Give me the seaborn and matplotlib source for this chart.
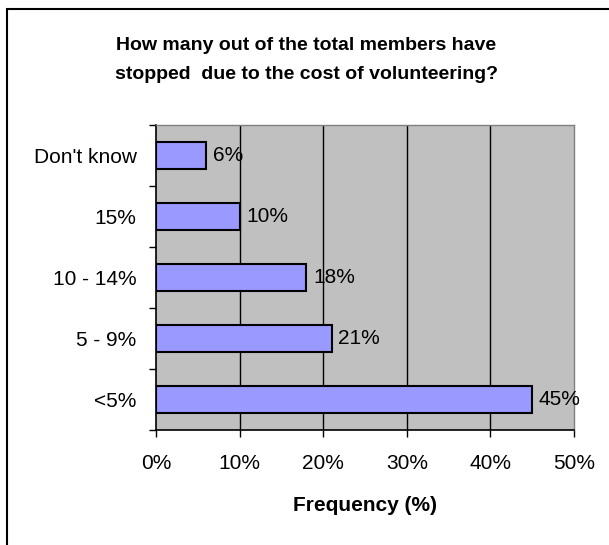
import numpy as np
import pandas as pd
import seaborn as sns
import matplotlib.pyplot as plt
from matplotlib.patches import Rectangle
from matplotlib.ticker import FixedLocator

# Datos
categorias = ["Don't know", "15%", "10 - 14%", "5 - 9%", "<5%"]
frecuencia = [6, 10, 18, 21, 45]
ticks_x = [0, 10, 20, 30, 40, 50]

df = pd.DataFrame({"Categoria": categorias, "Frecuencia": frecuencia})

sns.set_style("white")
plt.rcParams["font.family"] = ["Liberation Sans", "DejaVu Sans"]
plt.rcParams["text.color"] = "black"
plt.rcParams["xtick.color"] = "black"
plt.rcParams["ytick.color"] = "black"
plt.rcParams["axes.labelcolor"] = "black"

fig = plt.figure(figsize=(6.09, 5.45), dpi=100)
ax = fig.add_axes([156 / 609, 1 - 430 / 545, (574 - 156) / 609, (430 - 125) / 545])
ax.set_facecolor("#C0C0C0")

# Marco exterior del gráfico
fig.patches.append(Rectangle((7 / 609, -0.5), 1.5, 1.5 - 9 / 545,
                             transform=fig.transFigure, fill=False,
                             edgecolor="black", linewidth=1.5, zorder=0))

# Líneas de cuadrícula verticales
for x in ticks_x[1:-1]:
    ax.axvline(x, color="black", linewidth=1, zorder=1)

sns.barplot(data=df, x="Frecuencia", y="Categoria", order=categorias,
            orient="h", color="#9999FF", edgecolor="black", linewidth=1.5,
            width=0.43, saturation=1, ax=ax, zorder=2)

# Etiquetas de valor
for i, v in enumerate(frecuencia):
    ax.text(v + 0.8, i, f"{v}%", va="center", ha="left", fontsize=15, zorder=3)

ax.set_xlim(0, 50)
ax.set_ylim(4.5, -0.5)
ax.set_xticks(ticks_x)
ax.set_xticklabels([f"{t}%" for t in ticks_x], fontsize=15)
ax.tick_params(axis="x", direction="out", length=5, width=1, color="black", pad=12, bottom=True)

ax.set_yticks(range(len(categorias)))
ax.set_yticklabels(categorias, fontsize=15)
ax.yaxis.set_minor_locator(FixedLocator(np.arange(-0.5, 5, 1)))
ax.tick_params(axis="y", which="major", length=0, pad=14)
ax.tick_params(axis="y", which="minor", direction="out", length=5, width=1, color="black", left=True)

ax.set_ylabel("")
ax.set_xlabel("Frequency (%)", fontsize=15, fontweight="bold", labelpad=17)

for s in ["left", "bottom"]:
    ax.spines[s].set_color("black")
    ax.spines[s].set_linewidth(1.2)
for s in ["top", "right"]:
    ax.spines[s].set_color("#808080")
    ax.spines[s].set_linewidth(1)

fig.text(0.503, 1 - 60 / 545, "How many out of the total members have\nstopped  due to the cost of volunteering?",
         ha="center", va="center", fontsize=14, fontweight="bold", linespacing=1.95)

fig.savefig("out.png", dpi=100)
